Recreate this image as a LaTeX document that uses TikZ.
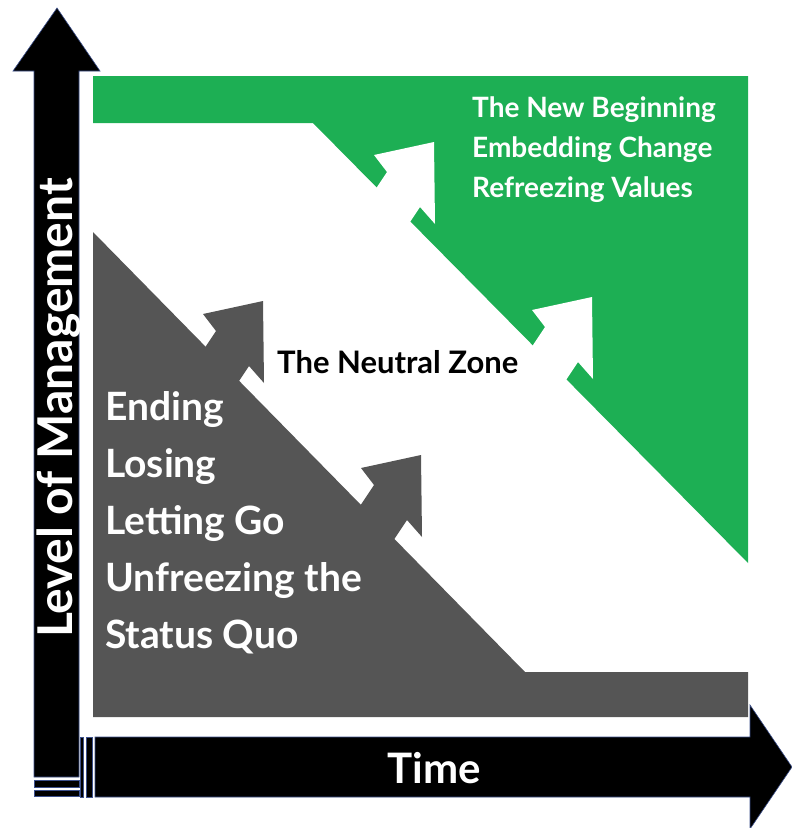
\documentclass[tikz,border=0pt]{standalone}
\usepackage{fontspec}
\setmainfont{Lato}
\usetikzlibrary{calc}

\definecolor{zonegreen}{RGB}{29,175,84}
\definecolor{zonegrey}{RGB}{85,85,85}
\definecolor{edgeblue}{RGB}{60,80,140}

\tikzset{
  axisbar/.style={fill=black, draw=edgeblue, line width=0.6pt},
  bentarrow/.pic={
    \fill[#1] (0,0) -- (1,82) -- (-14,65) -- (-34,95) -- (-67,60) -- (-47,30) -- (-60,13) -- cycle;
  },
  zonetext/.style={anchor=north west, inner sep=0pt, align=left, font=\bfseries}
}

\begin{document}
\begin{tikzpicture}[x=1pt,y=-1pt]
\useasboundingbox (0,0) rectangle (792,828);

% Green zone: the new beginning
\fill[zonegreen] (93,76) -- (748,76) -- (748,563) -- (313,123) -- (93,123) -- cycle;
\pic at (434,142) {bentarrow=white};
\pic at (592,297) {bentarrow=white};

% Grey zone: the ending
\fill[zonegrey] (93,232) -- (525,672) -- (748,672) -- (748,717) -- (93,717) -- cycle;
\pic at (263,301) {bentarrow=zonegrey};
\pic at (421,455) {bentarrow=zonegrey};

% Vertical axis
\draw[axisbar] (34,777) -- (34,71) -- (13,71) -- (57,8) -- (100,71) -- (79,71) -- (79,777) -- cycle;
\draw[axisbar] (34,780) rectangle (79,787);
\draw[axisbar] (34,790) rectangle (79,796);

% Horizontal axis
\draw[axisbar] (95,737) -- (750,737) -- (750,705) -- (792,767) -- (750,829) -- (750,797) -- (95,797) -- cycle;
\draw[axisbar] (80,737) rectangle (83,797);
\draw[axisbar] (86,737) rectangle (92,797);

% Labels
\node[rotate=90, text=white, font=\bfseries\fontsize{48}{48}\selectfont] (level) at (59,408) {Level of Management};
\node[text=white, font=\bfseries\fontsize{42}{42}\selectfont] (time) at (434,768) {Time};
\node[zonetext, text=white, font=\bfseries\fontsize{28}{40}\selectfont] (newbeg) at (472,96) {The New Beginning\\Embedding Change\\Refreezing Values};
\node[anchor=west, inner sep=0pt, font=\bfseries\fontsize{31}{31}\selectfont] (neutral) at (277,362) {The Neutral Zone};
\node[zonetext, text=white, font=\bfseries\fontsize{39}{57}\selectfont] (ending) at (105,391) {Ending\\Losing\\Letting Go\\Unfreezing the\\Status Quo};

\end{tikzpicture}
\end{document}
